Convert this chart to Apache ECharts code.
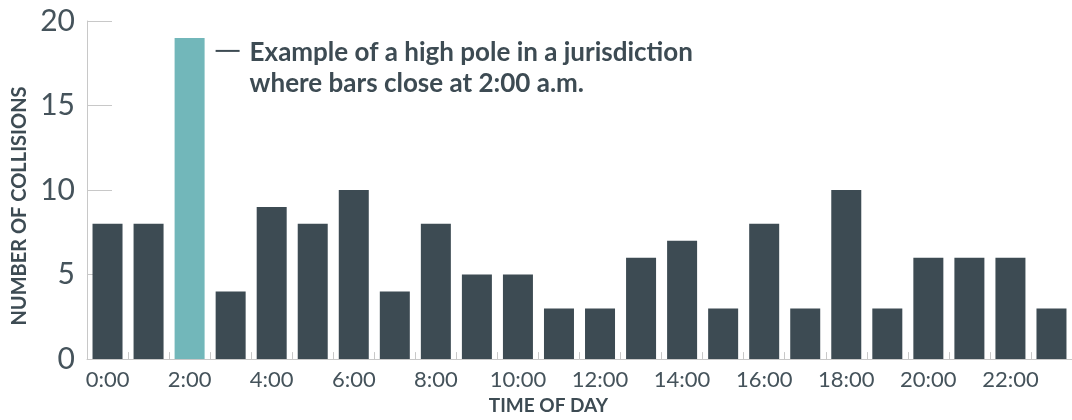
<!DOCTYPE html>
<html>
<head>
<meta charset="utf-8">
<script src="https://cdn.jsdelivr.net/npm/echarts@6/dist/echarts.min.js"></script>
<style>
html,body{margin:0;padding:0;background:#fff;}
#chart{width:1072px;height:420px;}
</style>
</head>
<body>
<div id="chart"></div>
<script>
const hours = ['0:00','1:00','2:00','3:00','4:00','5:00','6:00','7:00','8:00','9:00','10:00','11:00',
  '12:00','13:00','14:00','15:00','16:00','17:00','18:00','19:00','20:00','21:00','22:00','23:00'];
const collisions = [8,8,19,4,9,8,10,4,8,5,5,3,3,6,7,3,8,3,10,3,6,6,6,3];
const highlightIndex = 2;
const yTicks = [0,5,10,15,20];
const annotationLines = ['Example of a high pole in a jurisdiction', 'where bars close at 2:00 a.m.'];

const DARK = '#3d4b53';
const TEAL = '#72b7ba';
const AXIS = '#c8c8c8';

const chart = echarts.init(document.getElementById('chart'), null, {renderer: 'canvas'});

chart.setOption({
  animation: false,
  backgroundColor: '#fff',
  grid: {left: 87, right: -4, top: 21, bottom: 59, containLabel: false},
  xAxis: {
    type: 'category',
    data: hours,
    name: 'TIME OF DAY',
    nameLocation: 'middle',
    nameGap: 34,
    nameTextStyle: {fontFamily: 'Lato', fontWeight: 'bold', fontSize: 19, color: DARK, padding: [0, 62, 0, 0]},
    axisLine: {lineStyle: {color: AXIS, width: 1}},
    axisTick: {show: true, inside: true, length: 7, interval: 0, lineStyle: {color: AXIS}},
    axisLabel: {interval: 1, fontFamily: 'Lato', fontSize: 22, color: '#45535b', margin: 10},
    splitLine: {show: false}
  },
  yAxis: {
    type: 'value',
    min: yTicks[0],
    max: yTicks[yTicks.length - 1],
    interval: 5,
    name: 'NUMBER OF COLLISIONS',
    nameLocation: 'middle',
    nameGap: 55,
    nameTextStyle: {fontFamily: 'Lato', fontWeight: 'bold', fontSize: 20, color: DARK, padding: [0, 32, 0, 0]},
    axisLine: {show: true, lineStyle: {color: AXIS, width: 1}},
    axisTick: {show: true, inside: true, length: 25, lineStyle: {color: AXIS}},
    axisLabel: {fontFamily: 'Lato', fontSize: 30, color: '#45535b', margin: 12},
    splitLine: {show: false}
  },
  series: [{
    type: 'bar',
    barWidth: 30,
    data: collisions.map((v, i) => ({
      value: v,
      itemStyle: {color: i === highlightIndex ? TEAL : DARK}
    }))
  }]
});

// annotation anchored at the top of the highlighted bar
const barTop = chart.convertToPixel({xAxisIndex: 0, yAxisIndex: 0}, [highlightIndex, collisions[highlightIndex]]);
const tx = barTop[0] + 26;
const ty = barTop[1];
chart.setOption({
  graphic: [
    {type: 'line', shape: {x1: tx, y1: ty + 13, x2: tx + 24, y2: ty + 13}, style: {stroke: DARK, lineWidth: 2}},
    {type: 'text', x: tx + 34, y: ty - 1,
     style: {text: annotationLines.join('\n'), font: 'bold 26px Lato', fill: DARK, lineHeight: 31, textVerticalAlign: 'top'}}
  ]
});
</script>
</body>
</html>
